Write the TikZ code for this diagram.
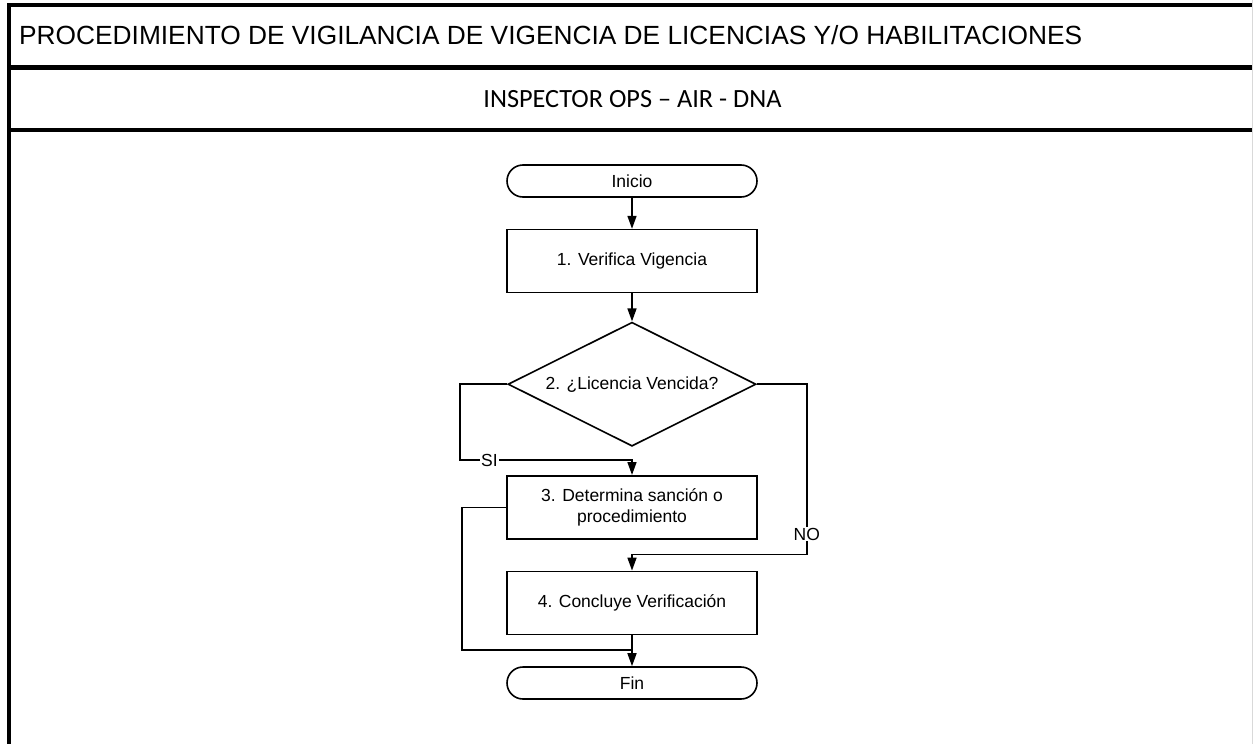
\documentclass[tikz,border=0pt]{standalone}
\usepackage{fontspec}
\setmainfont{Liberation Sans}
\newfontfamily\calibri{Carlito}
\usepackage{tikz}
\usetikzlibrary{arrows.meta, positioning, shapes.geometric}

\begin{document}
\begin{tikzpicture}[
  x=1pt, y=-1pt,
  node distance=31pt,
  terminal/.style={draw, line width=1.6pt, rounded corners=16pt, minimum width=250pt, minimum height=32pt, font=\fontsize{17.5pt}{21pt}\selectfont, align=center},
  proc/.style={draw, line width=1.6pt, minimum width=250pt, minimum height=63pt, font=\fontsize{17.5pt}{21pt}\selectfont, align=center},
  decision/.style={draw, diamond, aspect=2, line width=1.6pt, minimum width=248pt, minimum height=124pt, font=\fontsize{17.5pt}{21pt}\selectfont, align=center},
  lbl/.style={fill=white, inner sep=1pt, font=\fontsize{17.5pt}{21pt}\selectfont},
  arrow/.style={-{Triangle[length=13pt, width=9pt]}, line width=1.6pt},
  conn/.style={line width=1.6pt}
]
  \useasboundingbox (0,0) rectangle (1253,744);

  % marco y encabezados
  \draw[line width=4pt] (1253,5) -- (9,5) -- (9,744);
  \draw[line width=5pt] (9,67.5) -- (1253,67.5);
  \draw[line width=4pt] (9,129.5) -- (1253,129.5);
  \draw[gray!30] (1252.5,0) -- (1252.5,744);
  \node[anchor=base west, inner sep=0pt, font=\fontsize{26.3pt}{30pt}\selectfont] (titulo) at (19,44) {PROCEDIMIENTO DE VIGILANCIA DE VIGENCIA DE LICENCIAS Y/O HABILITACIONES};
  \node[anchor=base, inner sep=0pt, font=\calibri\fontsize{26.3pt}{30pt}\selectfont] (carril) at (632.5,107) {INSPECTOR OPS – AIR - DNA};

  % flujo
  \node[terminal] (inicio) at (632,181) {Inicio};
  \node[proc, below=of inicio] (verif) {1. Verifica Vigencia};
  \node[decision, below=28pt of verif] (lic) {2. ¿Licencia Vencida?};
  \node[proc, below=28pt of lic] (sanc) {3. Determina sanción o\\procedimiento};
  \node[proc, below=of sanc] (concl) {4. Concluye Verificación};
  \node[terminal, below=of concl] (fin) {Fin};

  \draw[arrow] (inicio) -- (verif);
  \draw[arrow] (verif) -- (lic);
  \draw[arrow] (lic.west) -- ++(-47pt,0pt) |- ([yshift=15pt]sanc.north) node[lbl, pos=0.585] {SI} -- (sanc.north);
  \draw[arrow] (lic.east) -- ++(50pt,0pt) |- ([yshift=16pt]concl.north) node[lbl, pos=0.44] {NO} -- (concl.north);
  \draw[conn] (sanc.west) -- ++(-44pt,0pt) |- ([yshift=16pt]fin.north);
  \draw[arrow] (concl) -- (fin);
\end{tikzpicture}
\end{document}
